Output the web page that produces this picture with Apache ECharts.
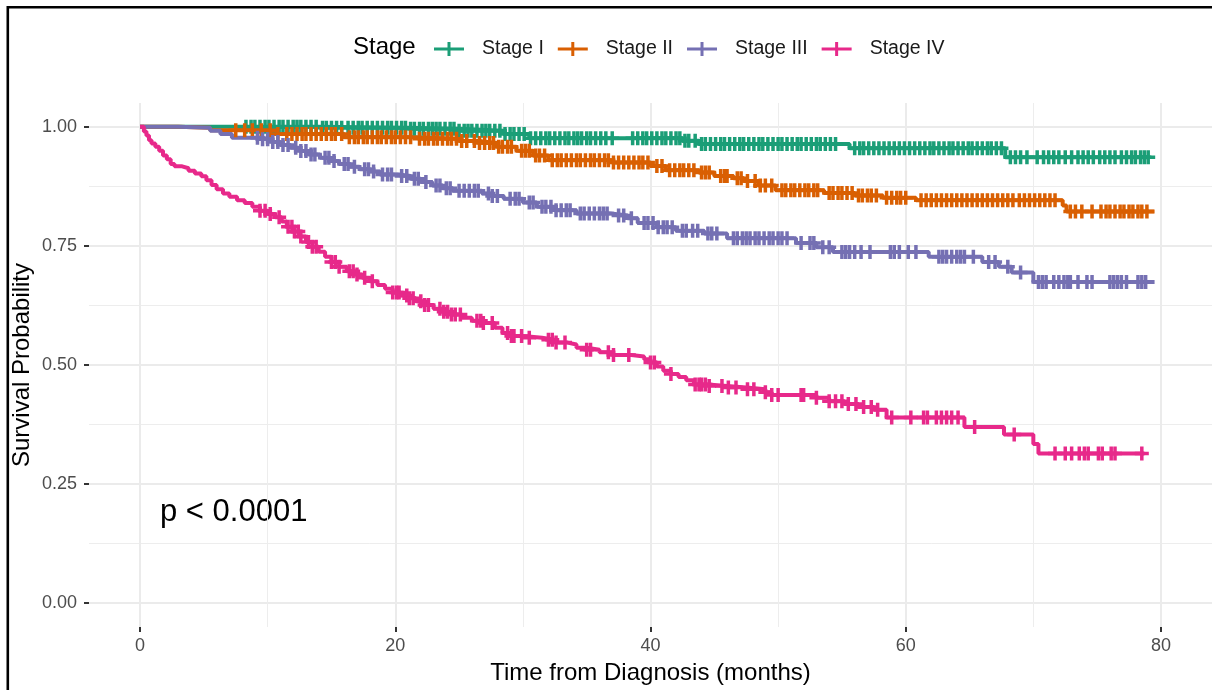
<!DOCTYPE html>
<html>
<head>
<meta charset="utf-8">
<script src="https://cdn.jsdelivr.net/npm/echarts@6/dist/echarts.min.js"></script>
<style>
html, body { margin: 0; padding: 0; background: #fff; }
#mainChart { width: 1212px; height: 690px; }
</style>
</head>
<body>
<div id="mainChart"></div>
<script>
var stageNames = ['Stage I', 'Stage II', 'Stage III', 'Stage IV'];
var stageColors = ['#1B9E77', '#D95F02', '#7570B3', '#E7298A'];
var xTicks = [0, 20, 40, 60, 80];
var xMinor = [10, 30, 50, 70];
var yTicks = [0, 0.25, 0.5, 0.75, 1];
var yMinor = [0.125, 0.375, 0.625, 0.875];

// KM steps: [months, survival after that time]
var stage1Steps = [[0, 1], [14, 0.998], [21, 0.996], [25, 0.992], [28.5, 0.985], [30.5, 0.976], [42.5, 0.971],
    [43.8, 0.964], [55.6, 0.955], [67.8, 0.936], [79, 0.936]];
var stage2Steps = [[0, 1], [3, 0.998], [5.5, 0.993], [10.5, 0.985], [16, 0.978], [21.5, 0.975], [25, 0.97],
    [26.5, 0.966], [28, 0.958], [29.5, 0.95], [30.8, 0.94], [32, 0.93], [37, 0.925], [40, 0.918], [41.2, 0.909],
    [43.8, 0.904], [45, 0.897], [46.5, 0.892], [47.3, 0.886], [48.5, 0.877], [49.8, 0.867], [53.6, 0.861],
    [56, 0.856], [58.2, 0.851], [60.8, 0.846], [72.3, 0.835], [72.6, 0.822], [79.5, 0.822]];
var stage3Steps = [[0, 1], [3, 0.998], [5.5, 0.992], [6.3, 0.985], [7.2, 0.977], [9.5, 0.974], [10.3, 0.968],
    [11, 0.962], [11.8, 0.956], [12.5, 0.949], [13.3, 0.942], [14.1, 0.935], [14.9, 0.928], [15.6, 0.922],
    [16.4, 0.916], [17.2, 0.911], [18, 0.906], [18.8, 0.9], [20.3, 0.897], [21.2, 0.891], [22, 0.884],
    [22.9, 0.877], [23.7, 0.871], [24.5, 0.866], [26.8, 0.86], [27.6, 0.855], [28.5, 0.849], [30, 0.841],
    [31.1, 0.832], [32.5, 0.825], [34.2, 0.818], [36.9, 0.814], [38.2, 0.808], [39, 0.798], [40.5, 0.789],
    [42, 0.782], [44.2, 0.776], [46, 0.766], [51.4, 0.756], [53, 0.747], [54.3, 0.737], [61.8, 0.727],
    [66, 0.716], [67.3, 0.706], [68.3, 0.694], [70, 0.674], [79.5, 0.674]];
var stage4Steps = [[0, 1], [0.3, 0.99], [0.5, 0.982], [0.7, 0.972], [0.9, 0.965], [1.2, 0.958], [1.5, 0.95],
    [1.8, 0.94], [2.1, 0.932], [2.4, 0.922], [2.7, 0.917], [3.3, 0.913], [3.8, 0.908], [4.3, 0.902], [4.8, 0.896],
    [5.2, 0.888], [5.6, 0.878], [6, 0.869], [6.5, 0.86], [7, 0.853], [7.6, 0.846], [8.2, 0.84], [8.8, 0.832],
    [9.4, 0.824], [10, 0.817], [10.6, 0.81], [11.1, 0.801], [11.5, 0.79], [12, 0.78], [12.5, 0.77], [13, 0.758],
    [13.5, 0.748], [14, 0.738], [14.5, 0.727], [15, 0.716], [15.6, 0.706], [16.2, 0.697], [16.8, 0.69],
    [17.4, 0.683], [18, 0.676], [18.6, 0.668], [19.2, 0.66], [19.8, 0.652], [20.4, 0.646], [21, 0.64],
    [21.6, 0.634], [22.3, 0.626], [23, 0.618], [23.7, 0.612], [24.4, 0.606], [25.2, 0.599], [26, 0.593],
    [26.8, 0.588], [27.8, 0.578], [28.4, 0.567], [29, 0.561], [30, 0.557], [31.5, 0.553], [32.5, 0.547],
    [33.5, 0.543], [34.2, 0.536], [35, 0.532], [36, 0.527], [37, 0.521], [38.5, 0.518], [39.5, 0.512],
    [40, 0.505], [40.5, 0.497], [41, 0.488], [41.6, 0.481], [42.2, 0.475], [42.8, 0.468], [43.4, 0.459],
    [44.5, 0.456], [46, 0.453], [47.5, 0.449], [49, 0.443], [49.5, 0.437], [53, 0.431], [54, 0.424],
    [55.2, 0.418], [56.3, 0.412], [57.5, 0.406], [58.5, 0.39], [64.6, 0.37], [67.7, 0.354], [70, 0.334],
    [70.4, 0.314], [78.7, 0.314]];

// censored times (months)
var stage1Censor = [8.3, 8.7, 9.0, 9.4, 9.8, 10.1, 10.5, 10.9, 11.2, 11.6, 12.0, 12.3, 12.6, 13.0, 13.4, 13.8,
    14.3, 14.6, 15.0, 15.4, 15.8, 16.3, 16.7, 17.1, 17.4, 17.8, 18.2, 18.6, 19.0, 19.4, 19.7, 20.1, 20.5, 20.8,
    21.2, 21.5, 21.9, 22.2, 22.6, 22.9, 23.2, 23.5, 23.9, 24.3, 24.6, 25.0, 25.4, 25.7, 26.0, 26.4, 26.8, 27.1,
    27.4, 27.8, 28.2, 28.6, 29.0, 29.3, 29.7, 30.1, 30.6, 31.0, 31.4, 31.8, 32.1, 32.5, 32.9, 33.3, 33.6, 34.0,
    34.3, 34.6, 35.0, 35.3, 35.7, 36.1, 36.5, 37.0, 38.6, 39.0, 39.4, 39.7, 40.1, 40.5, 40.9, 41.2, 41.6, 42.0,
    42.3, 42.7, 43.0, 43.5, 44.0, 44.3, 44.7, 45.1, 45.5, 45.8, 46.2, 46.6, 47.0, 47.3, 47.7, 48.1, 48.5, 48.8,
    49.2, 49.6, 50.0, 50.3, 50.7, 51.1, 51.5, 51.8, 52.2, 52.6, 53.0, 53.3, 53.7, 54.1, 54.5, 56.0, 56.4, 56.7,
    57.1, 57.5, 57.9, 58.3, 58.7, 59.1, 59.5, 59.9, 60.3, 60.7, 61.1, 61.5, 61.9, 62.2, 62.6, 63.0, 63.4, 63.7,
    64.1, 64.5, 64.9, 65.2, 65.6, 66.0, 66.4, 66.7, 67.1, 67.5, 68.2, 68.6, 69.0, 69.5, 70.3, 70.8, 71.2, 71.6,
    72.0, 72.5, 73.0, 73.5, 73.9, 74.3, 74.7, 75.2, 75.6, 76.0, 76.4, 76.9, 77.3, 77.7, 78.0, 78.4, 78.7, 79.0];
var stage2Censor = [7.5, 8.2, 8.8, 9.5, 10.2, 10.8, 11.5, 11.9, 12.3, 12.7, 13.0, 13.4, 13.8, 14.2, 14.6, 15.0,
    15.3, 15.8, 16.4, 16.8, 17.1, 17.5, 17.8, 18.2, 18.6, 18.9, 19.3, 19.7, 20.0, 20.4, 20.8, 21.2, 21.9, 22.3,
    22.6, 23.0, 23.3, 23.7, 24.1, 24.4, 24.8, 25.2, 25.6, 26.2, 26.6, 27.0, 27.4, 27.7, 28.1, 28.4, 28.8, 29.1,
    29.9, 30.2, 30.5, 31.0, 31.3, 31.7, 32.3, 32.7, 33.0, 33.4, 33.8, 34.2, 34.5, 34.9, 35.3, 35.6, 36.0, 36.4,
    36.7, 37.1, 37.5, 37.9, 38.3, 38.7, 39.1, 39.4, 39.8, 40.5, 40.9, 41.5, 41.9, 42.3, 42.6, 43.0, 43.4, 44.0,
    44.3, 44.6, 45.5, 45.8, 46.0, 46.8, 47.1, 47.6, 48.2, 48.6, 49.0, 49.5, 50.3, 50.6, 51.0, 51.3, 51.7, 52.1,
    52.4, 52.8, 53.1, 54.0, 54.3, 54.7, 55.0, 55.4, 55.8, 56.3, 56.6, 57.0, 57.3, 57.7, 58.5, 58.9, 59.3, 59.6,
    60.0, 61.2, 61.6, 62.0, 62.4, 62.8, 63.2, 63.6, 64.0, 64.4, 64.8, 65.2, 65.6, 66.0, 66.4, 66.8, 67.2, 67.6,
    68.0, 68.4, 68.9, 69.3, 69.7, 70.1, 70.5, 70.9, 71.3, 71.7, 72.9, 73.3, 73.8, 74.6, 75.3, 75.7, 76.0, 76.4,
    76.8, 77.1, 77.5, 77.8, 78.2, 78.5, 78.9];
var stage3Censor = [9.2, 9.6, 10.0, 10.4, 10.8, 11.2, 11.6, 12.2, 12.6, 13.0, 13.4, 13.7, 14.5, 14.8, 15.2, 16.0,
    16.3, 16.8, 17.6, 17.9, 18.3, 19.0, 19.4, 19.7, 20.5, 20.9, 21.5, 21.8, 22.4, 23.2, 23.5, 24.0, 24.3, 25.0,
    25.4, 25.8, 26.2, 26.5, 27.3, 27.6, 28.0, 29.0, 29.4, 29.7, 30.5, 30.8, 31.5, 31.8, 32.2, 32.6, 33.0, 33.4,
    33.7, 34.5, 34.8, 35.2, 35.6, 36.0, 36.3, 36.6, 37.5, 37.9, 38.5, 39.5, 39.8, 40.2, 40.6, 41.0, 41.3, 41.7,
    42.5, 42.8, 43.3, 43.7, 44.5, 44.8, 45.2, 46.5, 46.8, 47.2, 47.5, 47.8, 48.2, 48.5, 48.9, 49.3, 49.6, 50.0,
    50.3, 50.7, 51.8, 52.5, 52.8, 53.5, 54.0, 55.0, 55.3, 55.6, 56.0, 56.5, 57.2, 58.8, 59.1, 59.5, 60.2, 60.8,
    62.6, 62.9, 63.2, 63.6, 64.0, 64.3, 64.6, 65.3, 66.5, 67.0, 68.0, 69.0, 70.4, 70.7, 71.0, 71.6, 72.0, 72.4,
    72.7, 72.9, 73.5, 74.2, 74.6, 76.0, 76.3, 76.6, 76.9, 77.3, 78.2, 78.5, 78.8];
var stage4Censor = [9.4, 9.8, 10.2, 10.9, 11.6, 11.9, 12.1, 12.4, 12.6, 13.2, 13.5, 13.8, 15.0, 15.3, 15.6, 16.4,
    16.7, 17.0, 17.6, 18.2, 19.8, 20.1, 20.3, 20.9, 21.1, 21.4, 22.0, 22.3, 22.6, 23.5, 23.8, 24.1, 24.4, 24.7,
    25.1, 26.4, 26.7, 26.9, 27.6, 28.8, 29.1, 29.3, 29.9, 30.5, 32.0, 32.3, 32.6, 33.3, 35.0, 35.3, 36.7, 37.1,
    38.3, 40.0, 40.3, 41.6, 43.5, 43.8, 44.0, 44.3, 44.6, 45.6, 46.1, 46.7, 47.6, 48.1, 49.0, 49.5, 50.0, 51.8,
    52.0, 53.0, 54.0, 54.5, 55.0, 55.5, 56.1, 56.7, 57.3, 57.8, 58.9, 60.4, 61.4, 61.7, 62.4, 62.8, 63.2, 63.6,
    64.1, 65.4, 68.5, 71.7, 72.5, 73.0, 73.6, 74.0, 74.3, 75.1, 75.4, 76.1, 76.4, 78.5];

var allSteps = [stage1Steps, stage2Steps, stage3Steps, stage4Steps];
var allCensor = [stage1Censor, stage2Censor, stage3Censor, stage4Censor];

var fontName = '"Liberation Sans", Arial, sans-serif';
var crossPath = 'path://M5.25,0H8.75V5.25H14V8.75H8.75V14H5.25V8.75H0V5.25H5.25Z';
var legendPath = 'path://M0,5.5H13.5V0H16.5V5.5H30V8.5H16.5V14H13.5V8.5H0Z';

// survival value of the step curve at time t
function survAt(steps, t) {
    var s = steps[0][1];
    for (var i = 0; i < steps.length; i++) {
        if (steps[i][0] <= t) s = steps[i][1];
    }
    return s;
}

var seriesList = [];
for (var i = 0; i < stageNames.length; i++) {
    seriesList.push({
        name: stageNames[i],
        type: 'line',
        step: 'end',
        data: allSteps[i],
        showSymbol: false,
        silent: true,
        lineStyle: { color: stageColors[i], width: 4 },
        itemStyle: { color: stageColors[i] },
        z: 2
    });
}
for (var i = 0; i < stageNames.length; i++) {
    var pts = [];
    for (var j = 0; j < allCensor[i].length; j++) {
        pts.push([allCensor[i][j], survAt(allSteps[i], allCensor[i][j])]);
    }
    seriesList.push({
        name: stageNames[i],
        type: 'scatter',
        data: pts,
        symbol: crossPath,
        symbolSize: 14,
        silent: true,
        itemStyle: { color: stageColors[i], opacity: 1 },
        z: 3
    });
}

var myChart = echarts.init(document.getElementById('mainChart'));
var option = {
    animation: false,
    backgroundColor: '#fff',
    textStyle: { fontFamily: fontName },
    grid: { left: 89, right: 0, top: 103, bottom: 63, containLabel: false, outerBoundsMode: 'none' },
    legend: {
        left: 429,
        top: 34,
        itemWidth: 30,
        itemHeight: 14,
        itemGap: 14,
        icon: legendPath,
        data: stageNames,
        textStyle: { fontSize: 19.5, color: '#1a1a1a', fontFamily: fontName, padding: [0, 0, 0, 13] }
    },
    xAxis: [{
        type: 'value', min: -4, max: 84,
        axisLine: { show: false, onZero: false },
        axisTick: { show: true, customValues: xTicks, length: 5, lineStyle: { color: '#333', width: 2 } },
        axisLabel: { customValues: xTicks, margin: 10, fontSize: 18, color: '#4D4D4D', fontFamily: fontName },
        splitLine: { show: true, lineStyle: { color: '#EBEBEB', width: 2 } }
    }, {
        type: 'value', min: -4, max: 84,
        axisLine: { show: false, onZero: false },
        axisTick: { show: false, customValues: xMinor },
        axisLabel: { show: false, customValues: xMinor },
        splitLine: { show: true, lineStyle: { color: '#EDEDED', width: 1 } }
    }],
    yAxis: [{
        type: 'value', min: -0.05, max: 1.05,
        axisLine: { show: false, onZero: false },
        axisTick: { show: true, customValues: yTicks, length: 5, lineStyle: { color: '#333', width: 2 } },
        axisLabel: {
            customValues: yTicks, margin: 12, fontSize: 18, color: '#4D4D4D', fontFamily: fontName,
            formatter: function (v) { return v.toFixed(2); }
        },
        splitLine: { show: true, lineStyle: { color: '#EBEBEB', width: 2 } }
    }, {
        type: 'value', min: -0.05, max: 1.05,
        axisLine: { show: false, onZero: false },
        axisTick: { show: false, customValues: yMinor },
        axisLabel: { show: false, customValues: yMinor },
        splitLine: { show: true, lineStyle: { color: '#EDEDED', width: 1 } }
    }],
    graphic: [
        { type: 'line', shape: { x1: 7.8, y1: 7.2, x2: 1212, y2: 7.2 }, style: { stroke: '#000', lineWidth: 2.6 } },
        { type: 'line', shape: { x1: 7.8, y1: 6, x2: 7.8, y2: 690 }, style: { stroke: '#000', lineWidth: 2.6 } },
        {
            type: 'text', x: 353, y: 47,
            style: { text: 'Stage', font: '24px ' + fontName, fill: '#000', textAlign: 'left', textVerticalAlign: 'middle', align: 'left', verticalAlign: 'middle' }
        },
        {
            type: 'text', x: 160, y: 512,
            style: { text: 'p < 0.0001', font: '31px ' + fontName, fill: '#000', textAlign: 'left', textVerticalAlign: 'middle', align: 'left', verticalAlign: 'middle' }
        },
        {
            type: 'text', x: 650.5, y: 673,
            style: { text: 'Time from Diagnosis (months)', font: '24px ' + fontName, fill: '#000', textAlign: 'center', textVerticalAlign: 'middle', align: 'center', verticalAlign: 'middle' }
        },
        {
            type: 'text', x: 22, y: 365, rotation: Math.PI / 2,
            style: { text: 'Survival Probability', font: '24px ' + fontName, fill: '#000', textAlign: 'center', textVerticalAlign: 'middle', align: 'center', verticalAlign: 'middle' }
        }
    ],
    series: seriesList
};
myChart.setOption(option);
</script>
</body>
</html>
